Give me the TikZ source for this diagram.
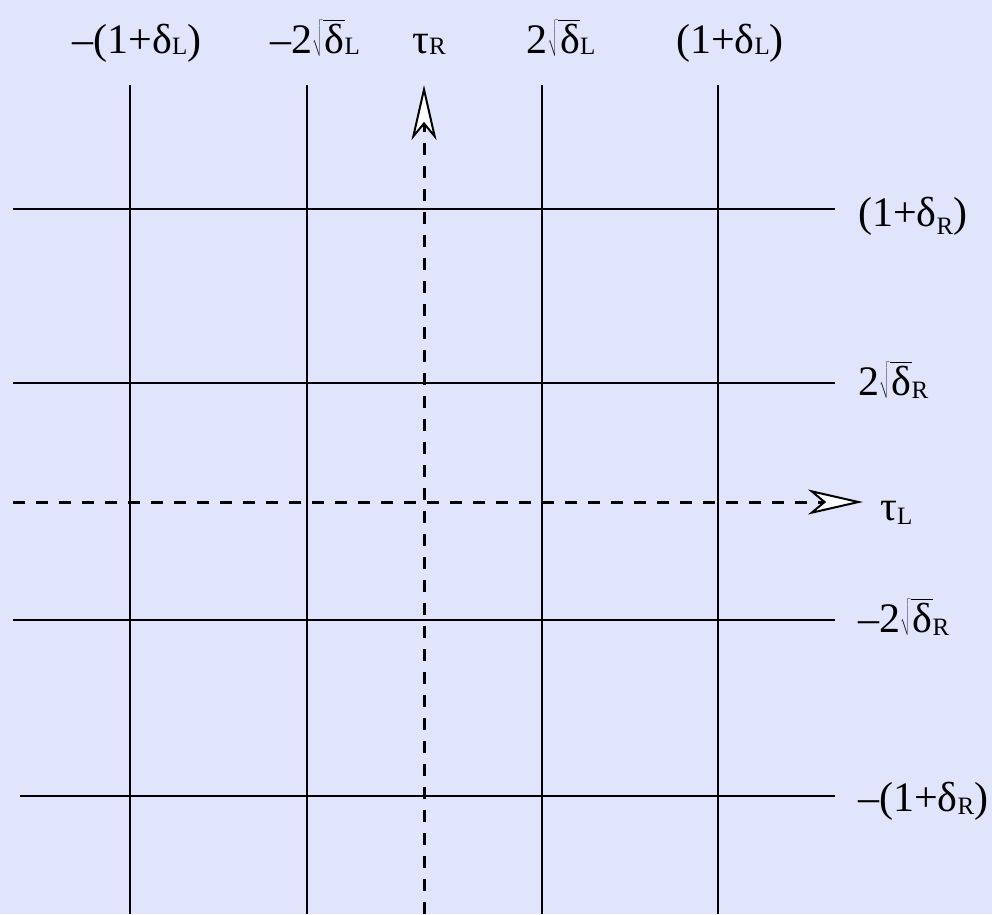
\documentclass[tikz,border=0pt]{standalone}
\usepackage{fontspec}
\setmainfont{Liberation Serif}
\usetikzlibrary{arrows.meta}
\definecolor{bg}{RGB}{224,229,252}
\newcommand{\sbx}[2][1]{\raisebox{-#1pt}{\fontsize{25}{25}\selectfont #2}}
\newcommand{\rtd}{$\sqrt{\kern2pt\hbox{δ}}$}
\tikzset{
  gridline/.style={line width=1.6pt, black},
  axisline/.style={line width=3pt, black, dash pattern=on 12pt off 11pt,
    -{Stealth[length=55pt, width=25pt, inset=15pt, fill=white, line width=2pt]}},
  lbl/.style={inner sep=0pt, font=\fontsize{42}{46}\selectfont},
}
\begin{document}
\begin{tikzpicture}[x=1pt,y=-1pt]
\fill[bg] (0,0) rectangle (992,914);
\useasboundingbox (0,0) rectangle (992,914);
% vertical grid lines
\foreach \n/\x in {v1/130, v2/307, v3/542, v4/718}{
  \coordinate (\n t) at (\x,85);
  \coordinate (\n b) at (\x,914);
  \draw[gridline] (\n t) -- (\n b);
}
% horizontal grid lines
\foreach \n/\y/\s in {h1/209/13, h2/383/13, h3/620/13, h4/796/20}{
  \coordinate (\n l) at (\s,\y);
  \coordinate (\n r) at (835,\y);
  \draw[gridline] (\n l) -- (\n r);
}
% axes
\coordinate (yb) at (424,914);
\coordinate (yt) at (424,85);
\coordinate (xl) at (13,502);
\coordinate (xr) at (863,502);
\draw[axisline] (yb) -- (yt);
\draw[axisline] (xl) -- (xr);
% top labels
\node[lbl, anchor=base] (t1) at (137,53) {–(1+δ\sbx{L})};
\node[lbl, anchor=base] (t2) at (315,53) {–2\rtd\sbx{L}};
\node[lbl, anchor=base] (t3) at (429,53) {τ\sbx{R}};
\node[lbl, anchor=base] (t4) at (561,53) {2\rtd\sbx{L}};
\node[lbl, anchor=base] (t5) at (730,53) {(1+δ\sbx{L})};
% right labels
\node[lbl, anchor=base west] (r1) at (858,226) {(1+δ\sbx[8]{R})};
\node[lbl, anchor=base west] (r2) at (858,395) {2\rtd\sbx[3]{R}};
\node[lbl, anchor=base west] (r3) at (880,520) {τ\sbx[4]{L}};
\node[lbl, anchor=base west] (r4) at (858,632) {–2\rtd\sbx[3]{R}};
\node[lbl, anchor=base west] (r5) at (858,811) {–(1+δ\sbx[3]{R})};
\end{tikzpicture}
\end{document}
